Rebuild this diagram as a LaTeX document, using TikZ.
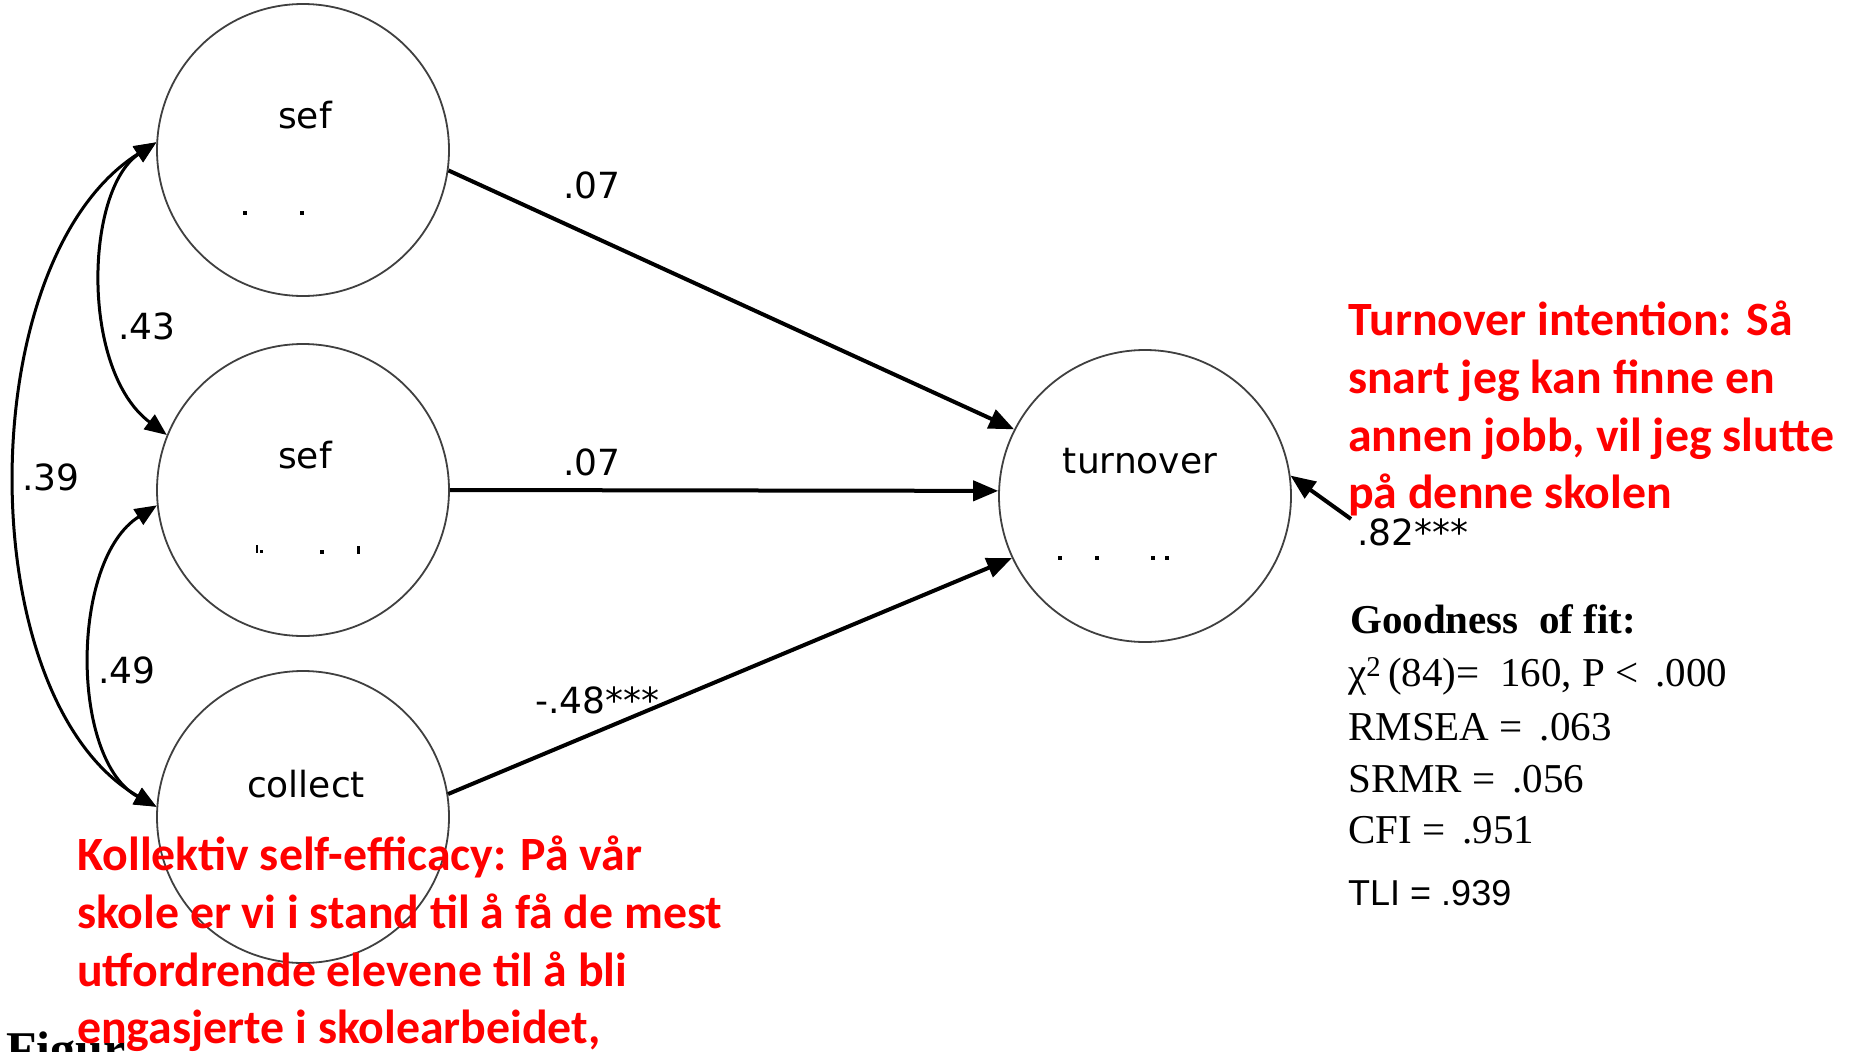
\documentclass[tikz,border=0pt]{standalone}
\usepackage{fontspec}
\setmainfont{Liberation Serif}
\newfontfamily\semfont{DejaVu Sans}
\newfontfamily\redfont{Carlito}
\newfontfamily\fitfont{Liberation Serif}
\newfontfamily\tlifont{Liberation Sans}
\usetikzlibrary{arrows.meta}
\definecolor{redtxt}{RGB}{255,0,0}
\tikzset{
  latent/.style={circle, draw=black!75, line width=1.8pt, minimum size=292pt, inner sep=0pt},
  lbl/.style={font=\semfont\fontsize{36}{43}\selectfont, inner sep=0pt, anchor=base west},
  regpath/.style={line width=4pt, -{Triangle[length=25pt,width=20pt]}},
  cov/.style={line width=3pt, {Triangle[length=22pt,width=18pt]}-{Triangle[length=22pt,width=18pt]}},
  rednote/.style={font=\redfont\bfseries\fontsize{47.8}{58}\selectfont, text=redtxt, inner sep=0pt, anchor=base west},
  fitline/.style={font=\fitfont\fontsize{41}{48}\selectfont, inner sep=0pt, anchor=base west},
  speck/.style={fill=black},
}
\begin{document}
\begin{tikzpicture}[x=1pt,y=-1pt]
\useasboundingbox[fill=white] (0,0) rectangle (1850,1052);
% latent variables
\node[latent] (sef1) at (303,150) {};
\node[latent] (sef2) at (303,490) {};
\node[latent] (coll) at (303,817) {};
\node[latent] (turn) at (1145,496) {};
\node[lbl,anchor=base] (sef1t) at (305,128) {sef};
\node[lbl,anchor=base] (sef2t) at (305,468) {sef};
\node[lbl,anchor=base] (collt) at (306,797) {collect};
\node[lbl,anchor=base] (turnt) at (1140,473) {turnover};
% specks
\fill[speck] (243,211) rectangle ++(4,4);
\fill[speck] (300,211) rectangle ++(4,4);
\fill[speck] (256,545) rectangle ++(2,8);
\fill[speck] (260,550) rectangle ++(3,3);
\fill[speck] (320,550) rectangle ++(4,4);
\fill[speck] (357,546) rectangle ++(3,8);
\fill[speck] (1058,556) rectangle ++(4,4);
\fill[speck] (1095,556) rectangle ++(4,4);
\fill[speck] (1151,556) rectangle ++(4,4);
\fill[speck] (1165,556) rectangle ++(4,4);
% regression paths
\draw[regpath] (sef1.-8) -- (turn.153);
\draw[regpath] (sef2.0) -- (turn.178);
\draw[regpath] (coll.9) -- (turn.205);
\coordinate (res) at (1351,519);
\draw[regpath] (res) -- (turn.8);
% covariances
\draw[cov] (sef1.177) .. controls (85,190) and (80,370) .. (sef2.158);
\draw[cov] (sef1.177) .. controls (-30,260) and (-30,700) .. (coll.176);
\draw[cov] (sef2.186) .. controls (70,560) and (70,760) .. (coll.176);
% coefficients
\node[lbl] (c1) at (563,198) {.07};
\node[lbl] (c2) at (563,475) {.07};
\node[lbl] (c3) at (535,713) {-.48***};
\node[lbl] (c4) at (1357,545) {.82***};
\node[lbl] (c5) at (118,339) {.43};
\node[lbl] (c6) at (22,490) {.39};
\node[lbl] (c7) at (98,683) {.49};
% fit statistics
\node[fitline,font=\fitfont\bfseries\fontsize{41}{48}\selectfont] (g0) at (1350,633) {Goodness\ \ of fit:};
\node[fitline] (g1) at (1348,686) {χ\textsuperscript{2}\,(84)=\ \ 160, P < \,.000};
\node[fitline] (g2) at (1348,740) {RMSEA = \,.063};
\node[fitline] (g3) at (1348,792) {SRMR = \,.056};
\node[fitline] (g4) at (1348,843) {CFI = \,.951};
\node[fitline,font=\tlifont\fontsize{36}{43}\selectfont] (g5) at (1348,905) {TLI = .939};
% caption remnant
\node[fitline,font=\fitfont\bfseries\fontsize{50}{56}\selectfont] (fig) at (6,1066) {Figur};
% red notes
\node[rednote] (t1) at (1348,335) {Turnover intention: Så};
\node[rednote] (t2) at (1348,393) {snart jeg kan finne en};
\node[rednote] (t3) at (1348,451) {annen jobb, vil jeg slutte};
\node[rednote] (t4) at (1348,508) {på denne skolen};
\node[rednote] (k1) at (77,870) {Kollektiv self-efficacy: På vår};
\node[rednote] (k2) at (77,928) {skole er vi i stand til å få de mest};
\node[rednote] (k3) at (77,986) {utfordrende elevene til å bli};
\node[rednote] (k4) at (77,1043) {engasjerte i skolearbeidet,};
\end{tikzpicture}
\end{document}
